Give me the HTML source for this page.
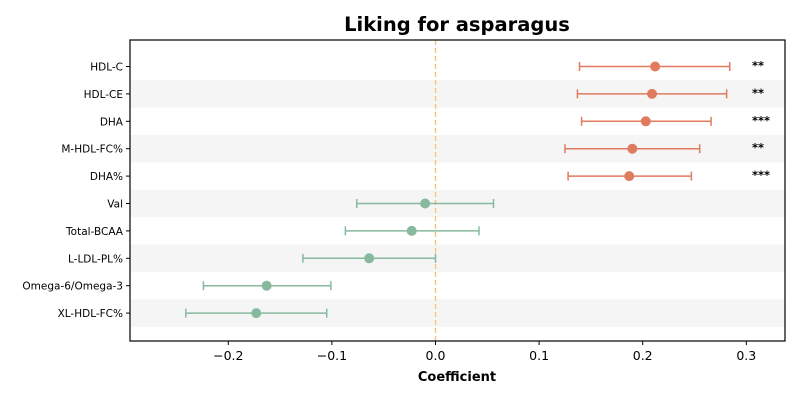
<!DOCTYPE html>
<html><head><meta charset="utf-8"><style>
body{margin:0;background:#fff;}
svg{display:block;font-family:"DejaVu Sans","Liberation Sans",sans-serif;}
</style></head><body>
<svg id="chart" width="800" height="400"></svg>
<script>
const labels=["HDL-C","HDL-CE","DHA","M-HDL-FC%","DHA%","Val","Total-BCAA","L-LDL-PL%","Omega-6/Omega-3","XL-HDL-FC%"];
const coef=[0.212,0.209,0.203,0.190,0.187,-0.010,-0.023,-0.064,-0.163,-0.173];
const lower=[0.139,0.137,0.141,0.125,0.128,-0.076,-0.087,-0.128,-0.224,-0.241];
const upper=[0.284,0.281,0.266,0.255,0.247,0.056,0.042,0.0,-0.101,-0.105];
const stars=["**","**","***","**","***","","","","",""];
const xTicks=[-0.2,-0.1,0.0,0.1,0.2,0.3];
const xTickLabels=["\u22120.2","\u22120.1","0.0","0.1","0.2","0.3"];
const NS="http://www.w3.org/2000/svg";
const svg=document.getElementById("chart");
const L=130,R=785,T=40,B=341;
const x=v=>435.5+(v)*1036;
const rowH=27.4;
const y=i=>66.5+i*rowH;
function mk(tag,attrs,parent){const e=document.createElementNS(NS,tag);for(const k in attrs)e.setAttribute(k,attrs[k]);(parent||svg).appendChild(e);return e;}
labels.forEach((l,i)=>{if(i%2===1){const r=mk("rect",{x:L,y:y(i)-rowH/2,width:R-L,height:rowH,fill:"#f5f5f5"});

}});
const zl=mk("line",{x1:x(0),x2:x(0),y1:T,y2:B,stroke:"#f0c27a","stroke-width":1.3,"stroke-dasharray":"5,3"});


labels.forEach((l,i)=>{
 const c=coef[i]>0?"#e07b5f":"#87b99e";
 const g=mk("g",{});
 
 
 const cy=y(i);
 mk("line",{x1:x(lower[i]),x2:x(upper[i]),y1:cy,y2:cy,stroke:c,"stroke-width":1.5},g);
 mk("line",{x1:x(lower[i]),x2:x(lower[i]),y1:cy-4.5,y2:cy+4.5,stroke:c,"stroke-width":1.5},g);
 mk("line",{x1:x(upper[i]),x2:x(upper[i]),y1:cy-4.5,y2:cy+4.5,stroke:c,"stroke-width":1.5},g);
 mk("circle",{cx:x(coef[i]),cy:cy,r:5,fill:c},g);
 const t=mk("text",{x:L-7,y:cy+4,"text-anchor":"end","font-size":10.5,fill:"#000"});t.textContent=l;
 
 
 mk("line",{x1:L-4,x2:L,y1:cy,y2:cy,stroke:"#000"});
 if(stars[i]){const s=mk("text",{x:752,y:cy+3,"font-size":11.5,"font-weight":"bold",fill:"#000"});s.textContent=stars[i];
 
 }
});
const ax=mk("rect",{x:L,y:T,width:R-L,height:B-T,fill:"none",stroke:"#000","stroke-width":1.2});


xTicks.forEach((v,i)=>{
 mk("line",{x1:x(v),x2:x(v),y1:B,y2:B+4,stroke:"#000"});
 const t=mk("text",{x:x(v),y:B+19,"text-anchor":"middle","font-size":12.5,fill:"#000"});t.textContent=xTickLabels[i];
 
 
});
const xt=mk("text",{x:457,y:381,"text-anchor":"middle","font-size":13,"font-weight":"bold"});xt.textContent="Coefficient";


const ti=mk("text",{x:457,y:31,"text-anchor":"middle","font-size":19.5,"font-weight":"bold"});ti.textContent="Liking for asparagus";


</script>
</body></html>
